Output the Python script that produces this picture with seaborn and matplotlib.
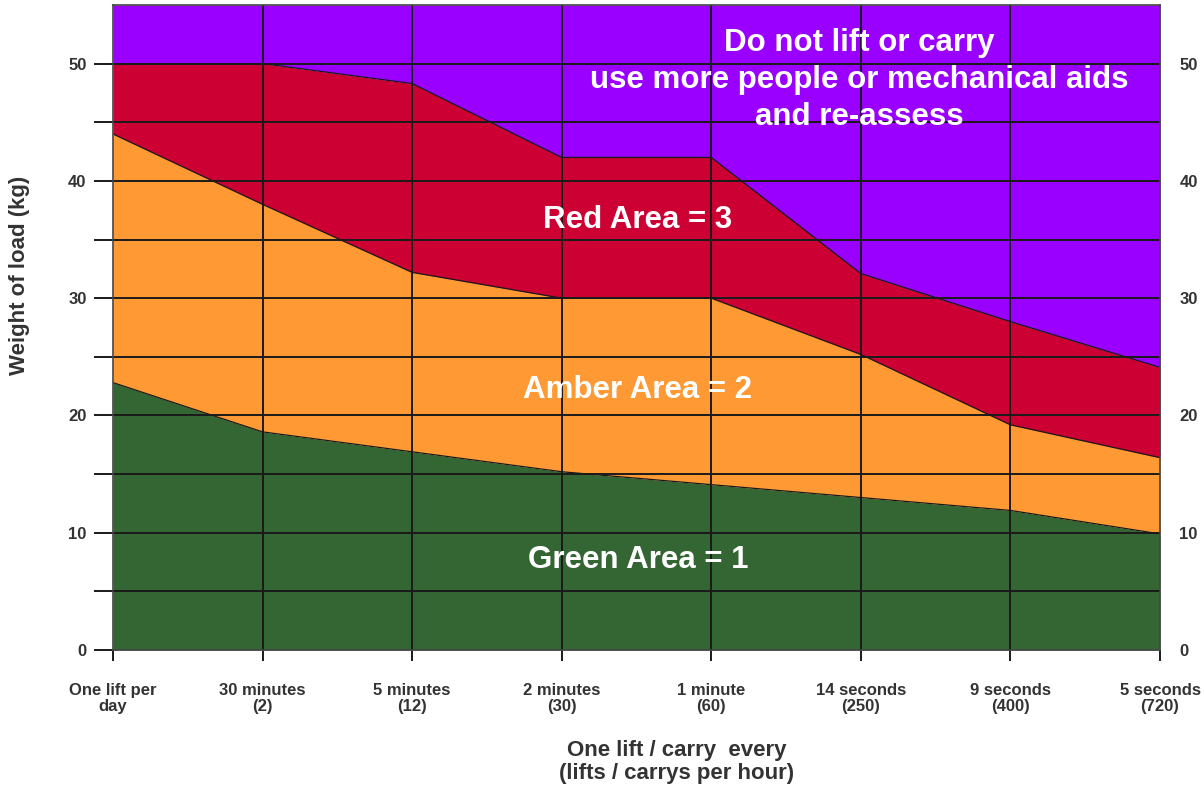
import numpy as np
import pandas as pd
import matplotlib
matplotlib.use("Agg")
import matplotlib.pyplot as plt
import seaborn as sns
from matplotlib.ticker import FixedLocator

# DATA
categories = ["One lift per\nday", "30 minutes\n(2)", "5 minutes\n(12)", "2 minutes\n(30)",
              "1 minute\n(60)", "14 seconds\n(250)", "9 seconds\n(400)", "5 seconds\n(720)"]
green_top = [22.8, 18.6, 16.9, 15.2, 14.1, 13.0, 11.9, 9.9]
amber_top = [44.0, 38.0, 32.2, 30.0, 30.0, 25.2, 19.2, 16.4]
red_top = [50.0, 50.0, 48.3, 42.0, 42.0, 32.1, 28.0, 24.1]
y_max = 55
y_labels = [0, 10, 20, 30, 40, 50]
y_grid = [5, 10, 15, 20, 25, 30, 35, 40, 45, 50]

area_labels = ["Green Area = 1", "Amber Area = 2", "Red Area = 3"]
area_label_y = [7.7, 22.2, 36.7]
purple_text = "Do not lift or carry\nuse more people or mechanical aids\nand re-assess"

colors = {"green": "#336633", "amber": "#FF9933", "red": "#CC0033", "purple": "#9900FF"}

sns.set_style("white")
plt.rcParams['font.family'] = ['Liberation Sans', 'DejaVu Sans']

x = np.arange(len(categories))
df = pd.DataFrame({"x": x, "green": green_top, "amber": amber_top, "red": red_top})

fig = plt.figure(figsize=(12.04, 7.89), dpi=100)
ax = fig.add_axes([113 / 1204, 1 - 650 / 789, (1160 - 113) / 1204, (650 - 5) / 789])

# filled bands
ax.fill_between(df["x"], 0, df["green"], color=colors["green"], lw=0, zorder=1)
ax.fill_between(df["x"], df["green"], df["amber"], color=colors["amber"], lw=0, zorder=1)
ax.fill_between(df["x"], df["amber"], df["red"], color=colors["red"], lw=0, zorder=1)
ax.fill_between(df["x"], df["red"], y_max, color=colors["purple"], lw=0, zorder=1)

# boundary lines
for col in ["green", "amber", "red"]:
    sns.lineplot(data=df, x="x", y=col, ax=ax, color="#1a1a1a", lw=0.9, zorder=2)

ax.set_xlim(0, len(categories) - 1)
ax.set_ylim(0, y_max)

# grid on top of fills
ax.set_yticks(y_labels)
ax.set_yticklabels([str(v) for v in y_labels], fontsize=12, fontweight="bold", color="#333333")
ax.yaxis.set_minor_locator(FixedLocator([v for v in y_grid if v not in y_labels]))
ax.set_xticks(x)
ax.set_xticklabels(categories, fontsize=12, fontweight="bold", color="#333333", linespacing=1.05)
for yv in y_grid:
    ax.axhline(yv, color="#1a1a1a", lw=1.4, zorder=3)
for xv in x[1:-1]:
    ax.axvline(xv, color="#1a1a1a", lw=1.4, zorder=3)

ax.tick_params(axis="y", which="both", direction="out", length=14, width=1.4,
               color="#1a1a1a", left=True, pad=5)
ax.tick_params(axis="x", which="both", direction="out", length=8, width=1.4,
               color="#1a1a1a", bottom=True, pad=16)
ax.set_xlabel("")
ax.set_ylabel("")

for s in ax.spines.values():
    s.set_color("#444444")
    s.set_linewidth(1.2)
    s.set_zorder(4)

# right axis labels
ax2 = ax.twinx()
ax2.set_ylim(0, y_max)
ax2.set_yticks(y_labels)
ax2.set_yticklabels([str(v) for v in y_labels], fontsize=12, fontweight="bold", color="#333333")
ax2.tick_params(axis="y", length=0, pad=14)
for s in ax2.spines.values():
    s.set_visible(False)

# annotations
txt = dict(color="white", fontsize=22.5, fontweight="bold", ha="center", va="center", zorder=6)
ax.text(4.99, 48.6, purple_text, linespacing=1.3, **txt)
for label, yv in zip(area_labels, area_label_y):
    ax.text(3.51, yv, label, **txt)

fig.text(677 / 1204, 1 - 762 / 789, "One lift / carry  every\n(lifts / carrys per hour)",
         ha="center", va="center", fontsize=16, fontweight="bold", color="#333333", linespacing=1.15)
fig.text(20 / 1204, 1 - 275 / 789, "Weight of load (kg)", rotation=90,
         ha="center", va="center", fontsize=16, fontweight="bold", color="#333333")

fig.savefig("out.png", dpi=100, facecolor="white")
